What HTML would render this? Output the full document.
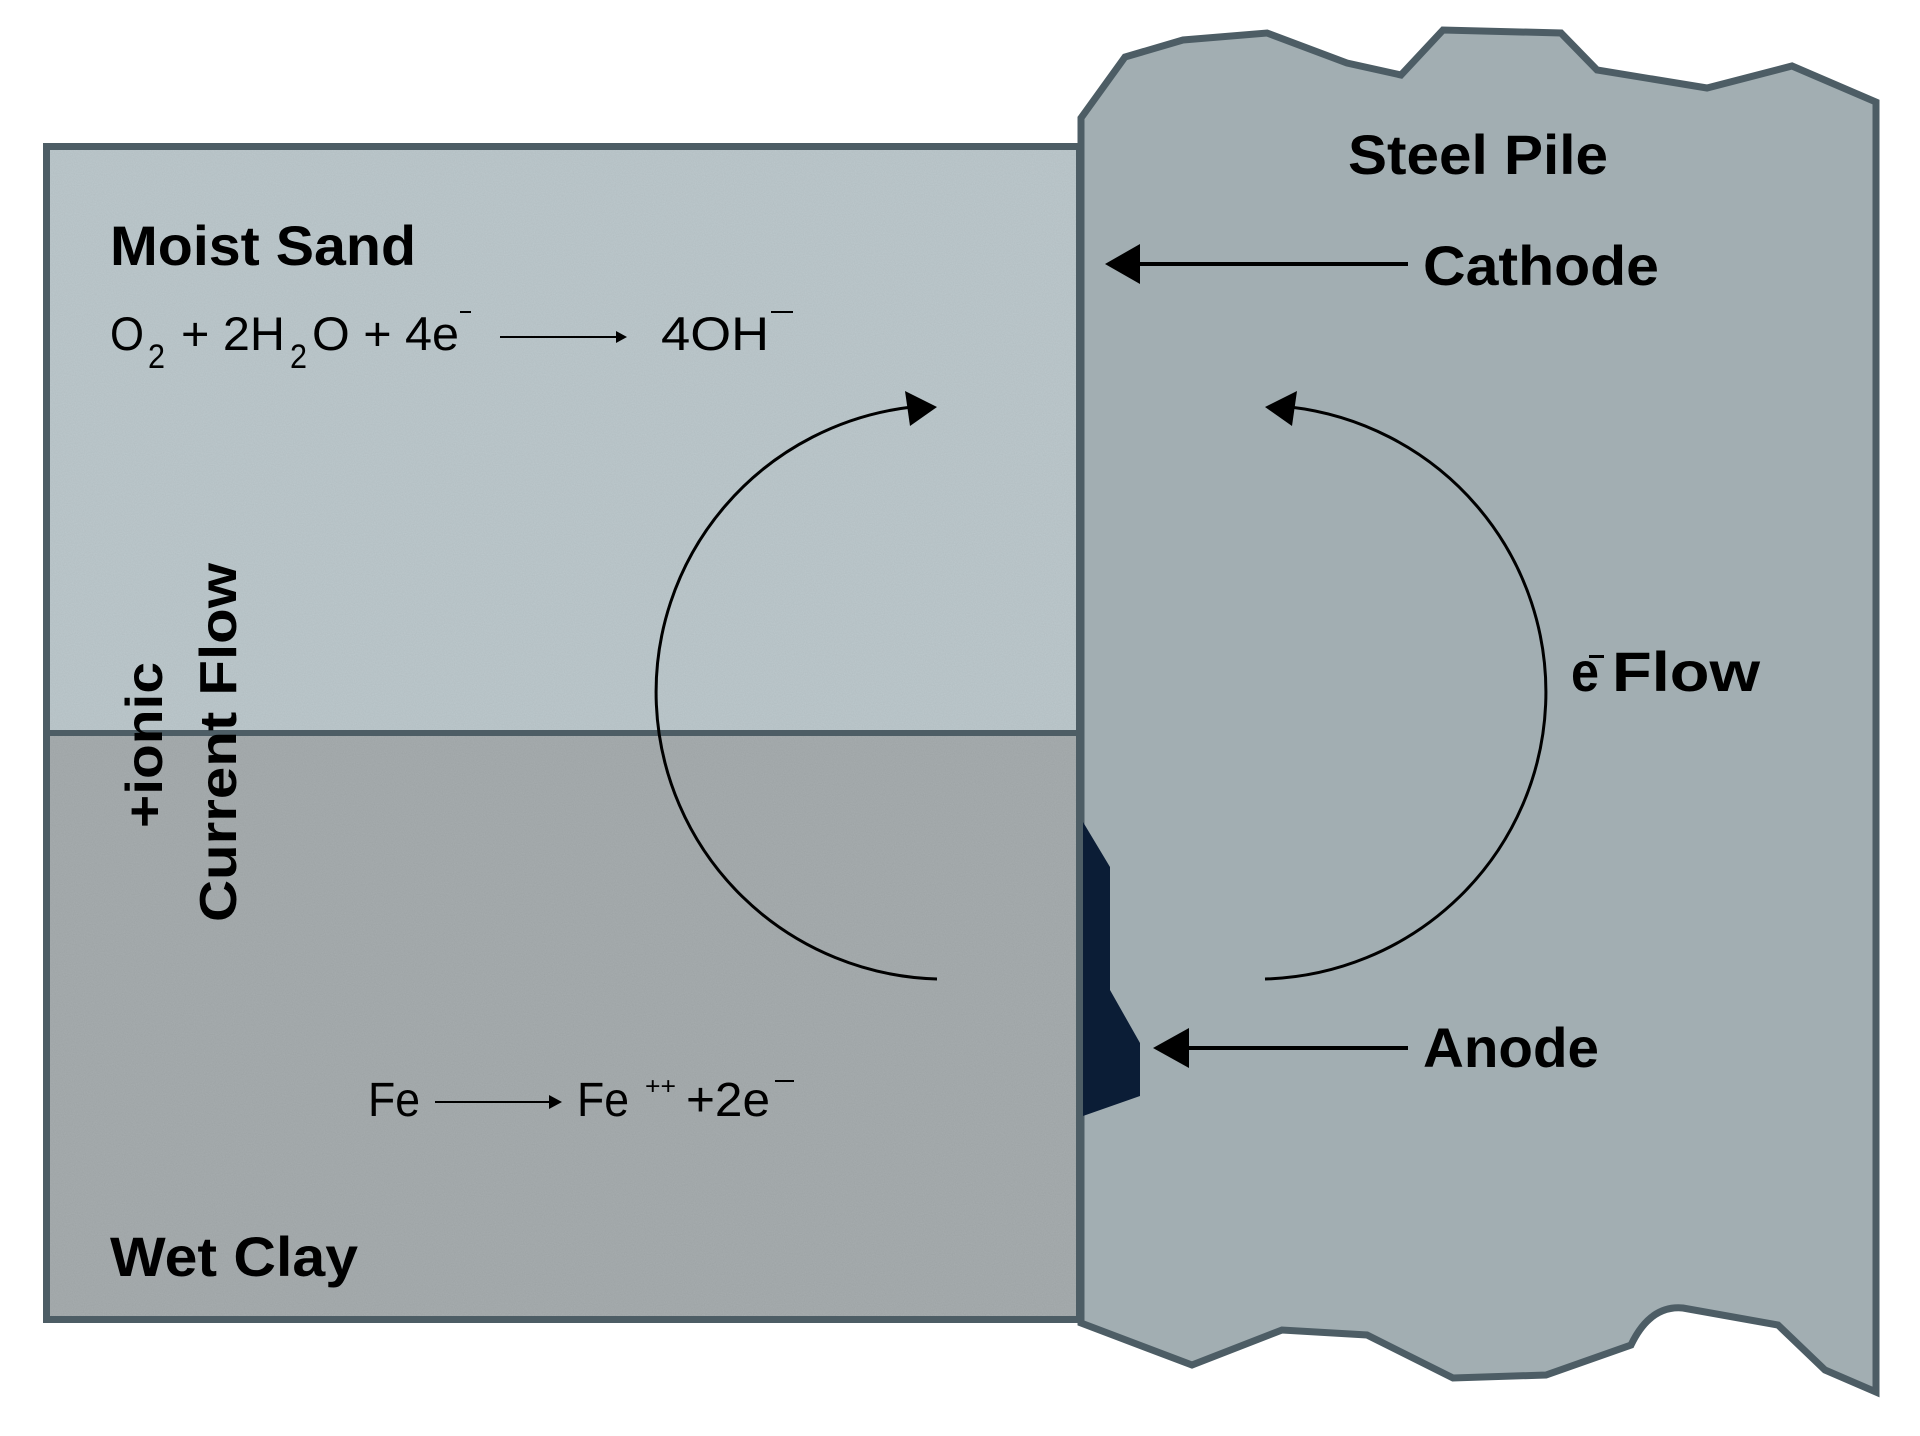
<!DOCTYPE html>
<html><head><meta charset="utf-8"><style>
html,body{margin:0;padding:0;background:#fff;}
svg{display:block;}
</style></head><body>
<svg width="1920" height="1436" viewBox="0 0 1920 1436" xmlns="http://www.w3.org/2000/svg">
<defs>
<filter id="grain" x="0" y="0" width="100%" height="100%">
<feTurbulence type="fractalNoise" baseFrequency="0.9" numOctaves="2" seed="3" result="n"/>
<feColorMatrix type="matrix" values="0 0 0 0 0  0 0 0 0 0  0 0 0 0 0  0 0 0 0.06 0" in="n" result="m"/>
<feComposite in="m" in2="SourceGraphic" operator="in"/>
</filter>
</defs>
<!-- soil -->
<rect x="43" y="143" width="1037" height="590" fill="#bdc9cd"/>
<rect x="43" y="733" width="1037" height="590" fill="#a7adaf"/>
<rect x="43" y="143" width="1037" height="1180" fill="#000" filter="url(#grain)"/>
<rect x="46.5" y="146.5" width="1033" height="1173" fill="none" stroke="#4d5d65" stroke-width="7"/>
<line x1="43" y1="733" x2="1080" y2="733" stroke="#4d5d65" stroke-width="6"/>
<!-- pile -->
<path d="M1081,118 L1125,57 L1183,40 L1267,33 L1347,63 L1401,75 L1443,30 L1561,33 L1597,70 L1707,88 L1792,66 L1876,102 L1876,1392 L1825,1370 L1778,1325 L1683,1308 Q1650,1305 1631,1345 L1546,1375 L1453,1378 L1367,1335 L1282,1330 L1192,1365 L1081,1323 Z" fill="#a2aeb2" stroke="#4d5d65" stroke-width="7" stroke-linejoin="miter"/>
<!-- anode patch -->
<polygon points="1083,822 1110,867 1110,990 1140,1043 1140,1096 1083,1116" fill="#0b1d36"/>
<!-- arrows -->
<line x1="1408" y1="264" x2="1130" y2="264" stroke="#000" stroke-width="4"/>
<polygon points="1105,264 1140,244 1140,284" fill="#000"/>
<line x1="1408" y1="1048" x2="1180" y2="1048" stroke="#000" stroke-width="4"/>
<polygon points="1153,1048 1189,1028 1189,1068" fill="#000"/>
<!-- loops -->
<path d="M937,979 A289,287 0 0 1 912,407" fill="none" stroke="#000" stroke-width="3"/>
<polygon points="937,407 905,391 910,426" fill="#000"/>
<path d="M1265,979 A289,287 0 0 0 1290,407" fill="none" stroke="#000" stroke-width="3"/>
<polygon points="1265,407 1297,391 1292,426" fill="#000"/>
<!-- labels -->
<g font-family="'Liberation Sans Narrow','Liberation Sans',sans-serif" font-weight="bold" fill="#000">
<text x="110" y="265" font-size="56" textLength="306" lengthAdjust="spacingAndGlyphs">Moist Sand</text>
<text x="110" y="1276" font-size="56" textLength="248" lengthAdjust="spacingAndGlyphs">Wet Clay</text>
<text x="1348" y="174" font-size="56" textLength="260" lengthAdjust="spacingAndGlyphs">Steel Pile</text>
<text x="1423" y="285" font-size="56" textLength="236" lengthAdjust="spacingAndGlyphs">Cathode</text>
<text x="1423" y="1067" font-size="56" textLength="176" lengthAdjust="spacingAndGlyphs">Anode</text>
<text x="1571" y="691" font-size="56" textLength="28" lengthAdjust="spacingAndGlyphs">e</text>
<text x="1612" y="691" font-size="56" textLength="148" lengthAdjust="spacingAndGlyphs">Flow</text>
</g>
<rect x="1589" y="655" width="15" height="3" fill="#000"/>
<!-- equation top -->
<g font-family="'Liberation Sans Narrow','Liberation Sans',sans-serif" fill="#000">
<text x="110" y="350" font-size="47" textLength="34" lengthAdjust="spacingAndGlyphs">O</text>
<text x="148" y="368" font-size="34" textLength="17" lengthAdjust="spacingAndGlyphs">2</text>
<text x="181" y="350" font-size="47" textLength="104" lengthAdjust="spacingAndGlyphs">+ 2H</text>
<text x="290" y="368" font-size="34" textLength="17" lengthAdjust="spacingAndGlyphs">2</text>
<text x="312" y="350" font-size="47" textLength="147" lengthAdjust="spacingAndGlyphs">O + 4e</text>
<text x="661" y="350" font-size="47" textLength="108" lengthAdjust="spacingAndGlyphs">4OH</text>
</g>
<rect x="460" y="311" width="11" height="2" fill="#000"/>
<rect x="771" y="311" width="22" height="2" fill="#000"/>
<line x1="500" y1="337" x2="618" y2="337" stroke="#000" stroke-width="2"/>
<polygon points="627,337 616,331 616,343" fill="#000"/>
<!-- bottom equation -->
<g font-family="'Liberation Sans',sans-serif" fill="#000">
<text x="368" y="1116" font-size="48" textLength="52" lengthAdjust="spacingAndGlyphs">Fe</text>
<text x="577" y="1116" font-size="48" textLength="52" lengthAdjust="spacingAndGlyphs">Fe</text>
<text x="645" y="1094" font-size="24" textLength="31" lengthAdjust="spacingAndGlyphs">++</text>
<text x="686" y="1116" font-size="48" textLength="84" lengthAdjust="spacingAndGlyphs">+2e</text>
</g>
<rect x="775" y="1080" width="19" height="2" fill="#000"/>
<line x1="435" y1="1102" x2="552" y2="1102" stroke="#000" stroke-width="2"/>
<polygon points="562,1102 549,1095 549,1109" fill="#000"/>
<!-- rotated -->
<g font-family="'Liberation Sans',sans-serif" font-weight="bold" fill="#000" font-size="52">
<text transform="translate(162,828) rotate(-90)" x="0" y="0" textLength="166" lengthAdjust="spacingAndGlyphs">+ionic</text>
<text transform="translate(236,922) rotate(-90)" x="0" y="0" textLength="359" lengthAdjust="spacingAndGlyphs">Current Flow</text>
</g>
</svg>
</body></html>
